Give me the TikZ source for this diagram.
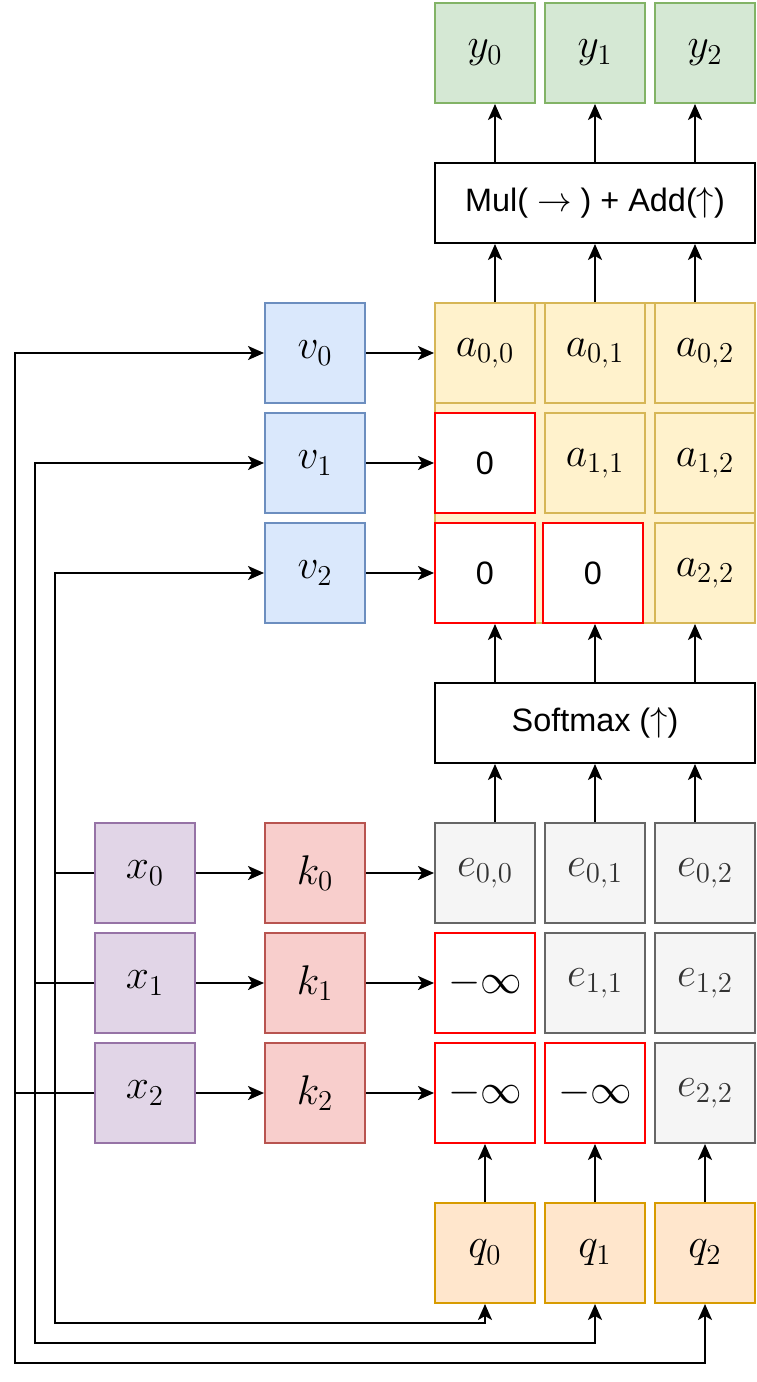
\documentclass[tikz,border=0pt]{standalone}
\usepackage{fontspec}
\setmainfont{Liberation Sans}
\usetikzlibrary{arrows.meta}

\definecolor{ygreen}{HTML}{D5E8D4}
\definecolor{ygreenline}{HTML}{82B366}
\definecolor{ayellow}{HTML}{FFF2CC}
\definecolor{ayellowline}{HTML}{D6B656}
\definecolor{vblue}{HTML}{DAE8FC}
\definecolor{vblueline}{HTML}{6C8EBF}
\definecolor{xpurple}{HTML}{E1D5E7}
\definecolor{xpurpleline}{HTML}{9673A6}
\definecolor{kred}{HTML}{F8CECC}
\definecolor{kredline}{HTML}{B85450}
\definecolor{egray}{HTML}{F5F5F5}
\definecolor{egrayline}{HTML}{666666}
\definecolor{etext}{HTML}{333333}
\definecolor{qorange}{HTML}{FFE6CC}
\definecolor{qorangeline}{HTML}{D79B00}
\definecolor{maskline}{HTML}{FF0000}

\newcommand\cellfont{\fontsize{21}{24}\selectfont}
\newcommand\inffont{\fontsize{20}{23}\selectfont}
\newcommand\opfont{\fontsize{16.2}{19}\selectfont}

\begin{document}
\begin{tikzpicture}[x=0.5pt,y=-0.5pt,
    every node/.style={inner sep=0pt},
    cell/.style={draw,line width=1pt,minimum width=50pt,minimum height=50pt,font=\cellfont},
    ybox/.style={cell,fill=ygreen,draw=ygreenline},
    abox/.style={cell,fill=ayellow,draw=ayellowline},
    mask/.style={cell,fill=white,draw=maskline,font=\opfont},
    vbox/.style={cell,fill=vblue,draw=vblueline},
    xbox/.style={cell,fill=xpurple,draw=xpurpleline},
    kbox/.style={cell,fill=kred,draw=kredline},
    ebox/.style={cell,fill=egray,draw=egrayline,text=etext},
    qbox/.style={cell,fill=qorange,draw=qorangeline},
    opbox/.style={draw,line width=1pt,minimum width=160pt,minimum height=40pt,font=\opfont},
    arr/.style={-{Stealth[length=8pt,width=7pt,inset=2pt]},line width=1pt}]
  \useasboundingbox (0,0) rectangle (756,1382);

  % outputs
  \node[ybox] (y0) at (485,53) {$y_0$};
  \node[ybox] (y1) at (595,53) {$y_1$};
  \node[ybox] (y2) at (705,53) {$y_2$};

  \node[opbox] (mul) at (595,203) {\raisebox{-2.5pt}{Mul( $\rightarrow$ ) + Add($\uparrow$)}};

  % attention weights
  \node[abox,minimum width=160pt,minimum height=160pt] (bg) at (595,463) {};
  \node[abox] (a00) at (485,353) {$a_{0,0}$};
  \node[abox] (a01) at (595,353) {$a_{0,1}$};
  \node[abox] (a02) at (705,353) {$a_{0,2}$};
  \node[mask] (a10) at (485,463) {0};
  \node[abox] (a11) at (595,463) {$a_{1,1}$};
  \node[abox] (a12) at (705,463) {$a_{1,2}$};
  \node[mask] (a20) at (485,573) {0};
  \node[mask] (a21) at (593,573) {0};
  \node[abox] (a22) at (705,573) {$a_{2,2}$};

  \node[vbox] (v0) at (315,353) {$v_0$};
  \node[vbox] (v1) at (315,463) {$v_1$};
  \node[vbox] (v2) at (315,573) {$v_2$};

  \node[opbox] (soft) at (595,723) {\raisebox{-2.5pt}{Softmax ($\uparrow$)}};

  % scores
  \node[ebox] (e00) at (485,873) {$e_{0,0}$};
  \node[ebox] (e01) at (595,873) {$e_{0,1}$};
  \node[ebox] (e02) at (705,873) {$e_{0,2}$};
  \node[mask,font=\inffont] (e10) at (485,983) {$-\infty$};
  \node[ebox] (e11) at (595,983) {$e_{1,1}$};
  \node[ebox] (e12) at (705,983) {$e_{1,2}$};
  \node[mask,font=\inffont] (e20) at (485,1093) {$-\infty$};
  \node[mask,font=\inffont] (e21) at (595,1093) {$-\infty$};
  \node[ebox] (e22) at (705,1093) {$e_{2,2}$};

  \node[xbox] (x0) at (145,873) {$x_0$};
  \node[xbox] (x1) at (145,983) {$x_1$};
  \node[xbox] (x2) at (145,1093) {$x_2$};

  \node[kbox] (k0) at (315,873) {$k_0$};
  \node[kbox] (k1) at (315,983) {$k_1$};
  \node[kbox] (k2) at (315,1093) {$k_2$};

  \node[qbox] (q0) at (485,1253) {$q_0$};
  \node[qbox] (q1) at (595,1253) {$q_1$};
  \node[qbox] (q2) at (705,1253) {$q_2$};

  % junctions on the left
  \coordinate (j0) at (55,873);
  \coordinate (j1) at (35,983);
  \coordinate (j2) at (15,1093);

  \draw[arr] ([xshift=-50pt]mul.north) -- ([xshift=-50pt]mul.north |- y0.south);
  \draw[arr] (mul) -- (y1);
  \draw[arr] ([xshift=50pt]mul.north) -- ([xshift=50pt]mul.north |- y2.south);

  \draw[arr] ([xshift=-50pt]bg.north) -- ([xshift=-50pt]mul.south);
  \draw[arr] (bg.north) -- (mul.south);
  \draw[arr] ([xshift=50pt]bg.north) -- ([xshift=50pt]mul.south);

  \draw[arr] ([xshift=-50pt]soft.north) -- ([xshift=-50pt]bg.south);
  \draw[arr] (soft.north) -- (bg.south);
  \draw[arr] ([xshift=50pt]soft.north) -- ([xshift=50pt]bg.south);

  \draw[arr] ([xshift=5pt]e00.north) -- ([xshift=-50pt]soft.south);
  \draw[arr] (e01.north) -- (soft.south);
  \draw[arr] ([xshift=-5pt]e02.north) -- ([xshift=50pt]soft.south);

  \draw[arr] (v0) -- (a00);
  \draw[arr] (v1) -- (a10);
  \draw[arr] (v2) -- (a20);

  \draw[arr] (x0) -- (k0);
  \draw[arr] (x1) -- (k1);
  \draw[arr] (x2) -- (k2);
  \draw[arr] (k0) -- (e00);
  \draw[arr] (k1) -- (e10);
  \draw[arr] (k2) -- (e20);

  \draw[arr] (q0) -- (e20);
  \draw[arr] (q1) -- (e21);
  \draw[arr] (q2) -- (e22);

  \draw[arr] (x2.west) -- (j2) |- (v0.west);
  \draw[arr] (x1.west) -- (j1) |- (v1.west);
  \draw[arr] (x0.west) -- (j0) |- (v2.west);
  \draw[arr] (x2.west) -- (j2) -- (15,1363) -| (q2.south);
  \draw[arr] (x1.west) -- (j1) -- (35,1343) -| (q1.south);
  \draw[arr] (x0.west) -- (j0) -- (55,1323) -| (q0.south);
\end{tikzpicture}
\end{document}
